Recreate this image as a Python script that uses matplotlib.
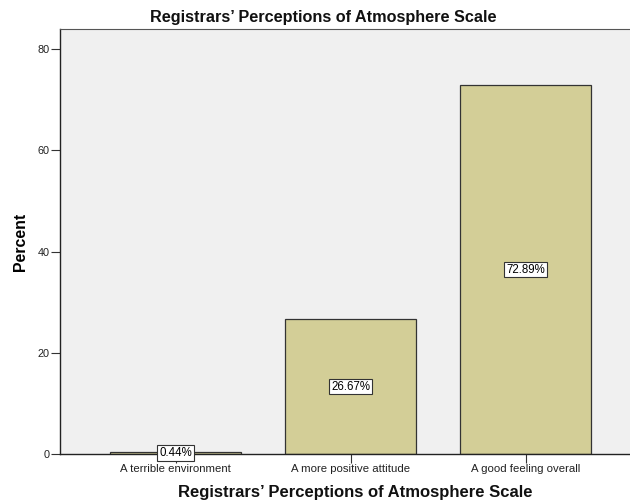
import matplotlib
matplotlib.use("Agg")
import matplotlib.pyplot as plt
import numpy as np

categories = ["A terrible environment", "A more positive attitude", "A good feeling overall"]
percents = [0.44, 26.67, 72.89]
value_labels = ["0.44%", "26.67%", "72.89%"]
yticks = [0, 20, 40, 60, 80]
title = "Registrars\u2019 Perceptions of Atmosphere Scale"

plt.rcParams["font.family"] = ["Liberation Sans", "DejaVu Sans"]

W, H = 630, 503
fig = plt.figure(figsize=(6.3, 5.03), dpi=100)
ax = fig.add_axes([60 / W, 1 - 454 / H, 1 - 60 / W, (454 - 29) / H])
ax.set_facecolor("#F0F0F0")

x = np.arange(len(categories))
ax.bar(x, percents, width=0.75, color="#D3CE97", edgecolor="#333333", linewidth=0.9, zorder=2)

for xi, p, lab in zip(x, percents, value_labels):
    ax.text(xi, p / 2, lab, ha="center", va="center", fontsize=8.3, zorder=4, clip_on=False,
            bbox=dict(boxstyle="square,pad=0.15", facecolor="white", edgecolor="#333333", linewidth=0.8))

ax.set_xlim(-0.66, 2.597)
ax.set_ylim(0, 84)
ax.set_yticks(yticks)
ax.set_xticks(x)
ax.set_xticklabels(categories, fontsize=8.2)
ax.tick_params(axis="y", labelsize=7.8, length=6.5, color="#333333", labelcolor="#222222", pad=1)
ax.tick_params(axis="x", length=6.5, color="#333333", labelcolor="#222222", pad=1)

for side in ["left", "bottom"]:
    ax.spines[side].set_color("#222222")
    ax.spines[side].set_linewidth(1.0)
ax.spines["top"].set_color("#555555")
ax.spines["right"].set_visible(False)

ax.set_ylabel("Percent", fontsize=11.4, fontweight="bold")
ax.yaxis.set_label_coords((28 - 60) / 570, 0.5)

fig.text(323 / W, 1 - 22 / H, title, ha="center", va="baseline", fontsize=11.7, fontweight="bold", color="#111111")
fig.text(355 / W, 1 - 497 / H, title, ha="center", va="baseline", fontsize=12, fontweight="bold", color="#111111")

fig.savefig("out.png", dpi=100)
